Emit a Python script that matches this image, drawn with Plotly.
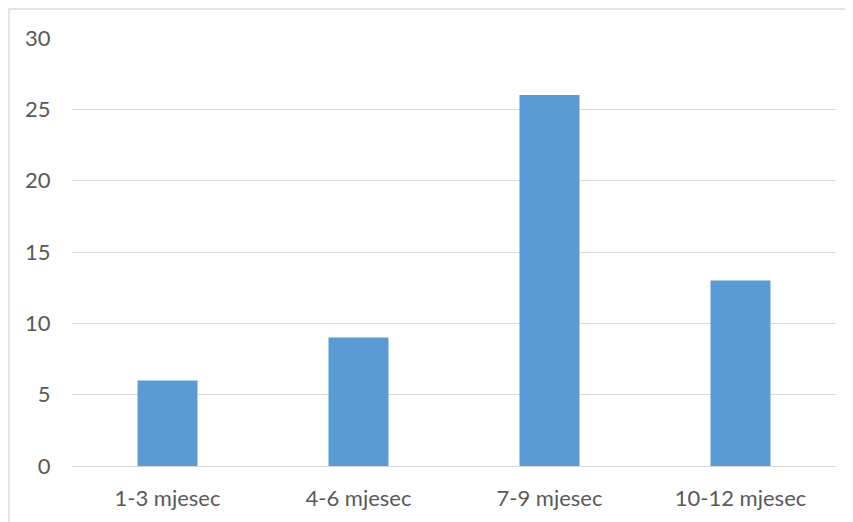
import plotly.graph_objects as go

categories = ["1-3 mjesec", "4-6 mjesec", "7-9 mjesec", "10-12 mjesec"]
values = [6, 9, 26, 13]
y_ticks = [0, 5, 10, 15, 20, 25, 30]

W, H = 853, 522
# page body has an 8px offset; margins compensate so the plot area lands at x 72..836, y 38..466
off = 8
ml, mt = 72 - off, 38 - off
mr = W - (836 - off)
mb = H - (466 - off)
pw, ph = W - ml - mr, H - mt - mb

fig = go.Figure(go.Bar(x=categories, y=values, marker_color="#5B9BD5", marker_line_width=0))

font = dict(family="Lato, Liberation Sans, Arial, sans-serif", size=22, color="#595959")

fig.update_layout(
    width=W, height=H,
    margin=dict(l=ml, r=mr, t=mt, b=mb, pad=0),
    paper_bgcolor="white", plot_bgcolor="white",
    bargap=0.686,
    showlegend=False,
    font=font,
    xaxis=dict(showgrid=False, showline=False, zeroline=False,
               ticks="outside", ticklen=13, tickcolor="rgba(0,0,0,0)",
               tickfont=font),
    yaxis=dict(range=[0, 30], tickvals=y_ticks, showgrid=True, gridcolor="#D9D9D9",
               gridwidth=1, zeroline=True, zerolinecolor="#D9D9D9", zerolinewidth=1,
               showline=False, ticks="outside", ticklen=16, tickcolor="rgba(0,0,0,0)",
               tickfont=font),
)

# outer chart border (partially cropped at right/bottom in reference)
bx, by = 9 - off, 9 - off
fig.add_shape(type="rect", xref="paper", yref="paper",
              x0=(bx - ml) / pw, x1=(W + 10 - ml) / pw,
              y0=-(mb + 10) / ph, y1=1 + (mt - by) / ph,
              line=dict(color="#D9D9D9", width=1.3), fillcolor="rgba(0,0,0,0)", layer="below")

fig.write_html("out.html")
